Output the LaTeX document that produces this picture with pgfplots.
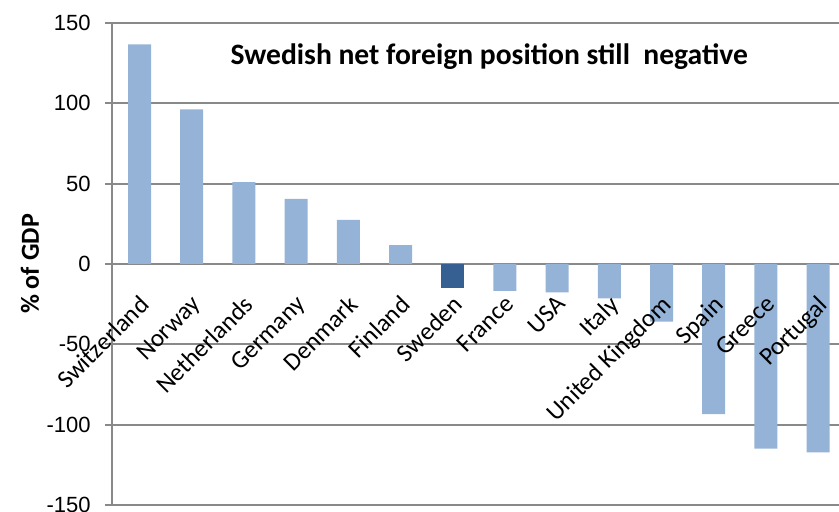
\documentclass[border=0pt]{standalone}
\usepackage{fontspec}
\setmainfont{Carlito}
\newfontfamily\tickfont{Liberation Sans}
\usepackage{pgfplots}
\pgfplotsset{compat=1.18}

\definecolor{barblue}{HTML}{95B3D7}
\definecolor{swedenblue}{HTML}{376092}
\definecolor{gridgray}{HTML}{898989}

\begin{document}
\begin{tikzpicture}[
  cat/.style={rotate=45, anchor=north east, inner sep=1pt, xshift=-10pt, yshift=-9pt,
    font=\fontsize{12.5}{14}\selectfont},
]
\begin{axis}[
  at={(0,0)}, anchor=south west,
  scale only axis,
  width=363.5pt, height=241pt,
  xmin=-0.527, xmax=13.4,
  ymin=-150, ymax=150,
  ytick={-150,-100,...,150},
  xtick=\empty,
  axis x line=middle, axis y line=left,
  axis line style={draw=gridgray, line width=0.9pt, -},
  ymajorgrids, grid style={draw=gridgray, line width=0.9pt},
  tick align=outside, major tick length=3.5pt,
  ytick style={draw=gridgray, line width=0.9pt},
  y tick label style={font=\tickfont\fontsize{11}{13}\selectfont, inner sep=0pt, xshift=-7pt},
  /pgf/number format/assume math mode=true,
  ybar, bar width=11.5pt, bar shift=0pt,
  clip=false,
]
\addplot[fill=barblue, draw=none] coordinates
  {(0,136.7)(1,96.3)(2,51)(3,40.5)(4,27.4)(5,11.8)(7,-16.8)(8,-17.6)(9,-21.4)(10,-35.9)(11,-93.5)(12,-114.9)(13,-117.2)};
\addplot[fill=swedenblue, draw=none] coordinates {(6,-15.1)};
% category names, drawn after the bars so that they lie on top
\node[cat] at (axis cs:0,0) {Switzerland};
\node[cat] at (axis cs:1,0) {Norway};
\node[cat] at (axis cs:2,0) {Netherlands};
\node[cat] at (axis cs:3,0) {Germany};
\node[cat] at (axis cs:4,0) {Denmark};
\node[cat] at (axis cs:5,0) {Finland};
\node[cat] at (axis cs:6,0) {Sweden};
\node[cat] at (axis cs:7,0) {France};
\node[cat] at (axis cs:8,0) {USA};
\node[cat] at (axis cs:9,0) {Italy};
\node[cat] at (axis cs:10,0) {United Kingdom};
\node[cat] at (axis cs:11,0) {Spain};
\node[cat] at (axis cs:12,0) {Greece};
\node[cat] at (axis cs:13,0) {Portugal};
\node[font=\bfseries\fontsize{14.8}{17}\selectfont] at (axis cs:6.7,128.8) {Swedish net foreign position still\ \ negative};
\end{axis}
\node[rotate=90, font=\bfseries\fontsize{13}{15}\selectfont] at (-41pt,120.5pt) {\% of GDP};
\pgfresetboundingbox
\path[use as bounding box] (-56pt,-3.5pt) rectangle (363.5pt,252.5pt);
\end{tikzpicture}
\end{document}
